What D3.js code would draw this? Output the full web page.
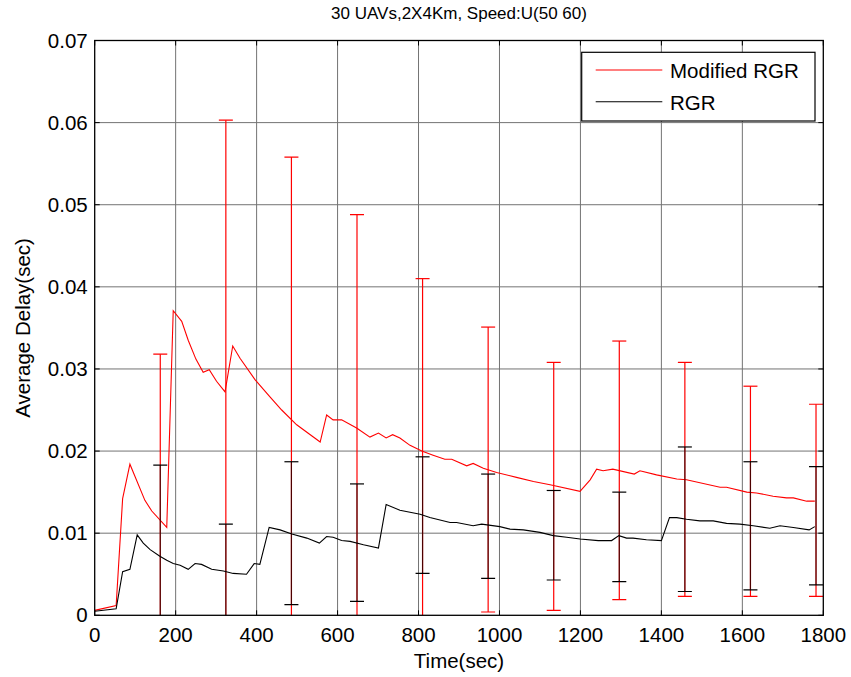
<!DOCTYPE html>
<html>
<head>
<meta charset="utf-8">
<script src="https://cdn.jsdelivr.net/npm/d3@7"></script>
<style>
  body { margin: 0; background: #fff; }
  svg { font-family: Arial, "Liberation Sans", sans-serif; }
</style>
</head>
<body>
<svg id="chart" width="851" height="677"></svg>
<script>
// Modified RGR mean delay curve
const redTime = [0, 53, 69, 87, 124, 141, 178, 194, 215, 231, 250, 268, 283, 301, 322, 341, 359, 396, 433, 462, 499, 557, 573, 589, 610, 647, 680, 701, 720, 736, 754, 779, 808, 836, 865, 882, 919, 935, 960, 993, 1042, 1084, 1125, 1199, 1224, 1240, 1256, 1280, 1333, 1347, 1388, 1438, 1462, 1545, 1561, 1611, 1635, 1676, 1709, 1726, 1759, 1779];
const redDelay = [0.0006, 0.0012, 0.0142, 0.0184, 0.0140, 0.0127, 0.0107, 0.0371, 0.0358, 0.0335, 0.0312, 0.0296, 0.0299, 0.0285, 0.0272, 0.0328, 0.0313, 0.0287, 0.0266, 0.0250, 0.0232, 0.0211, 0.0244, 0.0238, 0.0238, 0.0228, 0.0217, 0.0222, 0.0216, 0.0220, 0.0216, 0.0207, 0.0200, 0.0195, 0.0190, 0.0190, 0.0182, 0.0185, 0.0179, 0.0174, 0.0168, 0.0163, 0.0159, 0.0151, 0.0165, 0.0178, 0.0176, 0.0178, 0.0172, 0.0176, 0.0171, 0.0166, 0.0165, 0.0156, 0.0156, 0.0150, 0.0149, 0.0145, 0.0143, 0.0143, 0.0139, 0.0139];

// RGR mean delay curve
const blackTime = [0, 53, 69, 87, 105, 120, 137, 161, 178, 194, 211, 231, 248, 264, 289, 318, 342, 375, 394, 408, 431, 458, 487, 524, 555, 573, 589, 610, 631, 664, 701, 720, 754, 804, 828, 878, 894, 935, 956, 1001, 1026, 1059, 1100, 1133, 1166, 1199, 1244, 1277, 1295, 1314, 1330, 1363, 1400, 1420, 1438, 1462, 1495, 1528, 1561, 1594, 1627, 1668, 1693, 1726, 1765, 1779];
const blackDelay = [0.0005, 0.0008, 0.0053, 0.0056, 0.0098, 0.0088, 0.0080, 0.0072, 0.0067, 0.0063, 0.0061, 0.0056, 0.0063, 0.0062, 0.0056, 0.0054, 0.0051, 0.0050, 0.0063, 0.0062, 0.0107, 0.0104, 0.0099, 0.0094, 0.0088, 0.0096, 0.0095, 0.0091, 0.0090, 0.0086, 0.0082, 0.0135, 0.0128, 0.0123, 0.0119, 0.0113, 0.0113, 0.0109, 0.0111, 0.0108, 0.0105, 0.0104, 0.0101, 0.0097, 0.0095, 0.0093, 0.0091, 0.0091, 0.0097, 0.0094, 0.0094, 0.0092, 0.0091, 0.0119, 0.0119, 0.0117, 0.0115, 0.0115, 0.0112, 0.0111, 0.0109, 0.0106, 0.0109, 0.0107, 0.0104, 0.0108];

// error bars
const errTime = [162, 324, 486, 648, 810, 972, 1134, 1296, 1458, 1620, 1782];
const redUpper = [0.0318, 0.0603, 0.0558, 0.0488, 0.0410, 0.0351, 0.0308, 0.0334, 0.0308, 0.0279, 0.0257];
const redLower = [-0.002, -0.002, -0.002, -0.002, -0.002, 0.0004, 0.0006, 0.0019, 0.0023, 0.0023, 0.0023];
const blackUpper = [0.0183, 0.0111, 0.0187, 0.0160, 0.0193, 0.0172, 0.0152, 0.0150, 0.0205, 0.0187, 0.0181];
const blackLower = [-0.002, -0.002, 0.0013, 0.0017, 0.0051, 0.0045, 0.0043, 0.0041, 0.0029, 0.0031, 0.0037];

const xTicks = [0, 200, 400, 600, 800, 1000, 1200, 1400, 1600, 1800];
const yTicks = [0, 0.01, 0.02, 0.03, 0.04, 0.05, 0.06, 0.07];

const m = { left: 94.7, right: 823.3, top: 40.5, bottom: 615.3 };
const svg = d3.select('#chart');

const x = d3.scaleLinear().domain([0, 1800]).range([m.left, m.right]);
const y = d3.scaleLinear().domain([0, 0.07]).range([m.bottom, m.top]);

svg.append('clipPath').attr('id', 'plot-clip')
  .append('rect')
  .attr('x', m.left).attr('y', m.top)
  .attr('width', m.right - m.left).attr('height', m.bottom - m.top);

// grid
const grid = svg.append('g').attr('stroke', '#737373').attr('stroke-width', 1);
grid.selectAll('.gx').data(xTicks.slice(1, -1)).enter().append('line')
  .attr('x1', d => x(d)).attr('x2', d => x(d))
  .attr('y1', m.top).attr('y2', m.bottom);
grid.selectAll('.gy').data(yTicks.slice(1, -1)).enter().append('line')
  .attr('x1', m.left).attr('x2', m.right)
  .attr('y1', d => y(d)).attr('y2', d => y(d));

const plot = svg.append('g').attr('clip-path', 'url(#plot-clip)');

// red error bars
const capW = 7;
const redBars = plot.append('g').attr('stroke', '#ff0000').attr('stroke-width', 1.2);
errTime.forEach((t, i) => {
  redBars.append('line').attr('x1', x(t)).attr('x2', x(t)).attr('y1', y(redUpper[i])).attr('y2', y(redLower[i]));
  redBars.append('line').attr('x1', x(t) - capW).attr('x2', x(t) + capW).attr('y1', y(redUpper[i])).attr('y2', y(redUpper[i]));
  redBars.append('line').attr('x1', x(t) - capW).attr('x2', x(t) + capW).attr('y1', y(redLower[i])).attr('y2', y(redLower[i]));
});

// red curve
const line = d3.line().x(d => x(d[0])).y(d => y(d[1]));
plot.append('path')
  .attr('d', line(d3.zip(redTime, redDelay)))
  .attr('fill', 'none').attr('stroke', '#ff0000').attr('stroke-width', 1.1);

// black error bars (drawn over the red ones)
const blackBars = plot.append('g').attr('stroke', '#000').attr('stroke-width', 1.2);
errTime.forEach((t, i) => {
  blackBars.append('line').attr('x1', x(t)).attr('x2', x(t)).attr('y1', y(blackUpper[i])).attr('y2', y(blackLower[i]))
    .attr('stroke-opacity', 0.7);
  blackBars.append('line').attr('x1', x(t) - capW).attr('x2', x(t) + capW).attr('y1', y(blackUpper[i])).attr('y2', y(blackUpper[i]));
  blackBars.append('line').attr('x1', x(t) - capW).attr('x2', x(t) + capW).attr('y1', y(blackLower[i])).attr('y2', y(blackLower[i]));
});

plot.append('path')
  .attr('d', line(d3.zip(blackTime, blackDelay)))
  .attr('fill', 'none').attr('stroke', '#000').attr('stroke-width', 1.1);

// axes box, ticks inward on all four sides
svg.append('rect')
  .attr('x', m.left).attr('y', m.top)
  .attr('width', m.right - m.left).attr('height', m.bottom - m.top)
  .attr('fill', 'none').attr('stroke', '#000').attr('stroke-width', 1.3);

const tickLen = 5;
const ticks = svg.append('g').attr('stroke', '#000').attr('stroke-width', 1);
xTicks.forEach(t => {
  ticks.append('line').attr('x1', x(t)).attr('x2', x(t)).attr('y1', m.bottom).attr('y2', m.bottom - tickLen);
  ticks.append('line').attr('x1', x(t)).attr('x2', x(t)).attr('y1', m.top).attr('y2', m.top + tickLen);
});
yTicks.forEach(t => {
  ticks.append('line').attr('x1', m.left).attr('x2', m.left + tickLen).attr('y1', y(t)).attr('y2', y(t));
  ticks.append('line').attr('x1', m.right).attr('x2', m.right - tickLen).attr('y1', y(t)).attr('y2', y(t));
});

// tick labels
svg.append('g').selectAll('text').data(xTicks).enter().append('text')
  .attr('x', d => x(d)).attr('y', m.bottom + 27)
  .attr('text-anchor', 'middle').attr('font-size', 20.5)
  .text(d => d);
svg.append('g').selectAll('text').data(yTicks).enter().append('text')
  .attr('x', m.left - 7).attr('y', d => y(d) + 7)
  .attr('text-anchor', 'end').attr('font-size', 20.5)
  .text(d => d === 0 ? '0' : d3.format('.2f')(d));

// title and axis labels
svg.append('text')
  .attr('x', (m.left + m.right) / 2).attr('y', 19)
  .attr('text-anchor', 'middle').attr('font-size', 17)
  .text('30 UAVs,2X4Km, Speed:U(50 60)');
svg.append('text')
  .attr('x', (m.left + m.right) / 2).attr('y', 668)
  .attr('text-anchor', 'middle').attr('font-size', 20.5)
  .text('Time(sec)');
svg.append('text')
  .attr('transform', `translate(30, ${(m.top + m.bottom) / 2}) rotate(-90)`)
  .attr('text-anchor', 'middle').attr('font-size', 20.5)
  .text('Average Delay(sec)');

// legend
const legend = svg.append('g');
legend.append('rect')
  .attr('x', 581.7).attr('y', 52.3).attr('width', 233.3).attr('height', 68.7)
  .attr('fill', '#fff').attr('stroke', '#000').attr('stroke-width', 1.2);
const legendItems = [['Modified RGR', '#ff0000', 70], ['RGR', '#000', 101.7]];
legendItems.forEach(([label, color, ly]) => {
  legend.append('line').attr('x1', 595.7).attr('x2', 662.3).attr('y1', ly).attr('y2', ly)
    .attr('stroke', color).attr('stroke-width', 1.1);
  legend.append('text').attr('x', 670).attr('y', ly + 8).attr('font-size', 20.5).text(label);
});
</script>
</body>
</html>
